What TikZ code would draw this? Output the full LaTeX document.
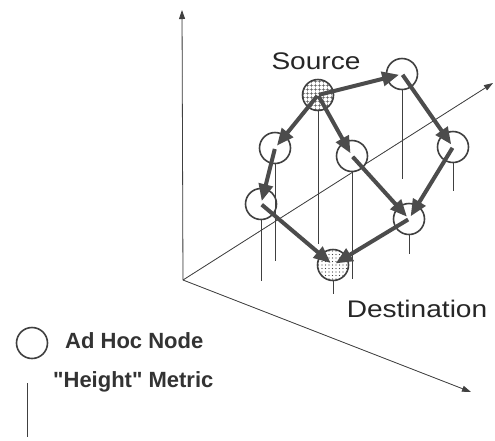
\documentclass[tikz,border=0pt]{standalone}
\usepackage{fontspec}
\setmainfont{Liberation Sans}[Ligatures=TeXOff]
\usepackage{graphicx}
\usetikzlibrary{positioning, arrows.meta, patterns.meta}

\begin{document}
\begin{tikzpicture}[x=1pt, y=-1pt,
  adhoc/.style={circle, draw=black!75, line width=1.6pt, fill=white, minimum size=31pt, inner sep=0pt},
  hop/.style={-{Triangle[length=17pt, width=14pt]}, line width=4pt, draw=black!70, fill=black!70, shorten <=1pt, shorten >=3pt},
  axis/.style={-{Triangle[length=9pt, width=6pt]}, line width=0.8pt, draw=black!75, fill=black!75},
  metric/.style={line width=1pt, draw=black!75},
  lbl/.style={font=\fontsize{24}{28}\selectfont, inner sep=0pt, text=black!85},
  key/.style={font=\bfseries\fontsize{22}{26}\selectfont, inner sep=0pt, text=black!80}]
  \fill[white] (0,0) rectangle (495,440);
  \useasboundingbox (0,0) rectangle (495,440);

  % axes
  \coordinate (o) at (183,280);
  \coordinate (zend) at (182,10);
  \coordinate (yend) at (493,83);
  \coordinate (xend) at (471,392);
  \draw[axis] (o) -- (zend);
  \draw[axis] (o) -- (yend);
  \draw[axis] (o) -- (xend);

  % ad hoc nodes
  \node[adhoc, preaction={fill=white}, pattern={Hatch[angle=0, distance=4pt, line width=0.7pt]}, pattern color=black!65] (src) at (318,95) {};
  \node[adhoc] (tr) at (402,74) {};
  \node[adhoc] (rt) at (453,147) {};
  \node[adhoc] (lu) at (275,148) {};
  \node[adhoc] (md) at (352,156) {};
  \node[adhoc] (ll) at (261,204) {};
  \node[adhoc] (rl) at (409,219) {};
  \node[adhoc, preaction={fill=white}, pattern={Dots[distance=3.5pt, radius=0.55pt]}, pattern color=black!75] (dst) at (333,265) {};

  % height metric
  \draw[metric] (src.south) -- ++(0,133);
  \draw[metric] (tr.south) -- ++(0,89);
  \draw[metric] (rt.south) -- ++(0,28);
  \draw[metric] (lu.south) -- ++(0,97);
  \draw[metric] (md.south) -- ++(0,107);
  \draw[metric] (ll.south) -- ++(0,61);
  \draw[metric] (rl.south) -- ++(0,19);
  \draw[metric] (dst.south) -- ++(0,13);

  % routes
  \draw[hop] (src.center) -- (tr.center);
  \draw[hop] (tr.center) -- (rt.center);
  \draw[hop] (rt.center) -- (rl.center);
  \draw[hop] (rl.center) -- (dst.center);
  \draw[hop] (src.center) -- (lu.center);
  \draw[hop] (lu.center) -- (ll.center);
  \draw[hop] (ll.center) -- (dst.center);
  \draw[hop] (src.center) -- (md.center);
  \draw[hop] (md.center) -- (rl.center);

  \node[lbl, anchor=base] (srclbl) at (316,69) {\scalebox{1.17}[1]{Source}};
  \node[lbl, anchor=base] (dstlbl) at (417,317) {\scalebox{1.17}[1]{Destination}};

  % legend
  \node[adhoc] (keynode) at (32,343) {};
  \node[key, anchor=base west] (keynodetxt) at (65,348) {Ad Hoc Node};
  \coordinate (keytop) at (27,383);
  \coordinate (keybot) at (27,437);
  \draw[metric] (keytop) -- (keybot);
  \node[key, anchor=base west] (keymetrictxt) at (53,387) {"Height" Metric};
\end{tikzpicture}
\end{document}
